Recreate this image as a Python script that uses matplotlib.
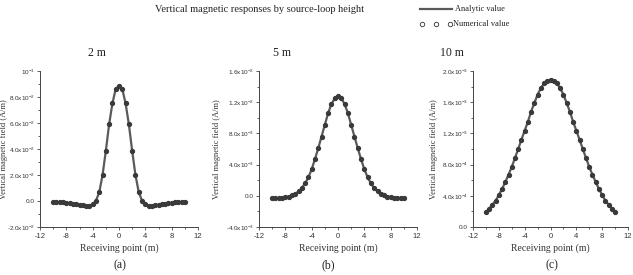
import matplotlib
matplotlib.use('Agg')
import matplotlib.pyplot as plt
import numpy as np
from matplotlib.lines import Line2D
from matplotlib.ticker import AutoMinorLocator

SERIF = ['Liberation Serif', 'DejaVu Serif']
SANS = ['Liberation Sans', 'DejaVu Sans']
plt.rcParams['font.family'] = SERIF
plt.rcParams['mathtext.fontset'] = 'custom'
plt.rcParams['mathtext.rm'] = 'Liberation Sans'

LINE = '#5a5a5a'
DOT = '#3a3a3a'

# receiving points (m)
x_pts = np.arange(-10, 10.01, 0.5)

# source-loop height 2 m (A/m)
hz_2m = [-0.0005, -0.0007, -0.0009, -0.0011, -0.0014, -0.0017, -0.0020, -0.0024,
         -0.0028, -0.0033, -0.0036, -0.0036, -0.0026, 0.0003, 0.0067, 0.0200,
         0.0385, 0.0590, 0.0751, 0.0862, 0.0887, 0.0862, 0.0751, 0.0590,
         0.0385, 0.0200, 0.0067, 0.0003, -0.0026, -0.0036, -0.0036, -0.0033,
         -0.0028, -0.0024, -0.0020, -0.0017, -0.0014, -0.0011, -0.0009, -0.0007,
         -0.0005]

# source-loop height 5 m (A/m)
hz_5m = [-0.00034, -0.00031, -0.00030, -0.00026, -0.00017, -0.00009, 0.00004, 0.00026,
         0.00056, 0.00099, 0.00159, 0.00236, 0.00340, 0.00470, 0.00610, 0.00760,
         0.00910, 0.01060, 0.01176, 0.01250, 0.01280, 0.01250, 0.01176, 0.01060,
         0.00910, 0.00760, 0.00610, 0.00470, 0.00340, 0.00236, 0.00159, 0.00099,
         0.00056, 0.00026, 0.00004, -0.00009, -0.00017, -0.00026, -0.00030, -0.00031,
         -0.00034]

# source-loop height 10 m (A/m)
hz_10m = [1.92e-4, 2.35e-4, 2.86e-4, 3.38e-4, 4.10e-4, 4.87e-4, 5.77e-4, 6.70e-4,
          7.70e-4, 8.85e-4, 1.000e-3, 1.120e-3, 1.235e-3, 1.350e-3, 1.480e-3, 1.590e-3,
          1.697e-3, 1.780e-3, 1.840e-3, 1.876e-3, 1.890e-3, 1.876e-3, 1.840e-3, 1.780e-3,
          1.697e-3, 1.590e-3, 1.480e-3, 1.350e-3, 1.235e-3, 1.120e-3, 1.000e-3, 8.85e-4,
          7.70e-4, 6.70e-4, 5.77e-4, 4.87e-4, 4.10e-4, 3.38e-4, 2.86e-4, 2.35e-4,
          1.92e-4]

x_ticks = [-12, -8, -4, 0, 4, 8, 12]

a_ticks = [-0.02, 0.0, 0.02, 0.04, 0.06, 0.08, 0.10]
a_labels = [r'-2.0x10$^{-2}$', '0.0', r'2.0x10$^{-2}$', r'4.0x10$^{-2}$',
            r'6.0x10$^{-2}$', r'8.0x10$^{-2}$', r'10$^{-1}$']
b_ticks = [-0.004, 0.0, 0.004, 0.008, 0.012, 0.016]
b_labels = [r'-4.0x10$^{-3}$', '0.0', r'4.0x10$^{-3}$', r'8.0x10$^{-3}$',
            r'1.2x10$^{-2}$', r'1.6x10$^{-2}$']
c_ticks = [0.0, 0.0004, 0.0008, 0.0012, 0.0016, 0.0020]
c_labels = ['0.0', r'4.0x10$^{-4}$', r'8.0x10$^{-4}$', r'1.2x10$^{-3}$',
            r'1.6x10$^{-3}$', r'2.0x10$^{-3}$']

panels = [
    # x span px, values, yticks, ylabels, ylabel x, height title x, letter x
    ([40, 198], hz_2m, a_ticks, a_labels, -0.200, 97, '2 m', 120, '(a)'),
    ([259, 417], hz_5m, b_ticks, b_labels, -0.240, 282, '5 m', 328, '(b)'),
    ([473, 628], hz_10m, c_ticks, c_labels, -0.226, 452, '10 m', 552, '(c)'),
]

W, H = 633, 275
fig = plt.figure(figsize=(W / 100, H / 100), dpi=100)

for (xl, xr), vals, yt, yl, ylx, tx, ttl, lx, letter in panels:
    ax = fig.add_axes([xl / W, (H - 227) / H, (xr - xl) / W, 156 / H])
    ax.plot(x_pts, vals, color=LINE, linewidth=1.6, zorder=2)
    ax.plot(x_pts, vals, 'o', color=DOT, markersize=2.8, zorder=3)
    ax.set_xlim(-12, 12)
    ax.set_ylim(yt[0], yt[-1])
    ax.set_xticks(x_ticks)
    ax.set_xticklabels([str(t) for t in x_ticks], family=SANS, fontsize=5.5)
    ax.set_yticks(yt)
    ax.set_yticklabels(yl, family=SANS, fontsize=4.6)
    ax.xaxis.set_minor_locator(AutoMinorLocator(2))
    ax.yaxis.set_minor_locator(AutoMinorLocator(2))
    ax.tick_params(which='both', direction='out', color='#444444', width=0.6,
                   labelcolor='#333333')
    ax.tick_params(axis='x', pad=2)
    ax.tick_params(axis='y', pad=1)
    ax.tick_params(which='major', length=2.5)
    ax.tick_params(which='minor', length=1.6)
    for s in ['top', 'right']:
        ax.spines[s].set_visible(False)
    for s in ['left', 'bottom']:
        ax.spines[s].set_color('#444444')
        ax.spines[s].set_linewidth(0.7)
    ax.set_xlabel('Receiving point (m)', fontsize=7, color='#333333', labelpad=2)
    ax.set_ylabel('Vertical magnetic field (A/m)', fontsize=6, color='#333333')
    ax.yaxis.set_label_coords(ylx, 0.5)
    fig.text(tx / W, 1 - 53 / H, ttl, ha='center', va='center', fontsize=8.5,
             color='#222222')
    fig.text(lx / W, 1 - 265 / H, letter, ha='center', va='center', fontsize=8.5,
             color='#222222')

fig.text(260 / W, 1 - 10 / H, 'Vertical magnetic responses by source-loop height',
         ha='center', va='center', fontsize=7.5, color='#222222')

# legend drawn by hand at the top right
fig.add_artist(Line2D([420 / W, 452 / W], [1 - 9 / H, 1 - 9 / H], color=LINE,
                      linewidth=1.6, transform=fig.transFigure))
fig.text(455 / W, 1 - 9 / H, 'Analytic value', ha='left', va='center',
         fontsize=6, color='#222222')
fig.add_artist(Line2D([422 / W, 436 / W, 450 / W], [1 - 24 / H] * 3, linestyle='none',
                      marker='o', markersize=3.2, markerfacecolor='white',
                      markeredgecolor='#333333', markeredgewidth=0.6,
                      transform=fig.transFigure))
fig.text(453 / W, 1 - 24 / H, 'Numerical value', ha='left', va='center',
         fontsize=6, color='#222222')

fig.savefig('out.png', dpi=100)
